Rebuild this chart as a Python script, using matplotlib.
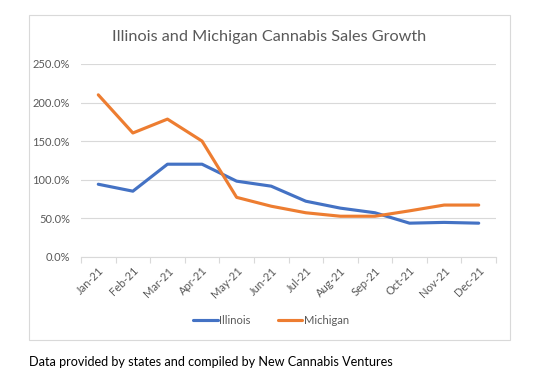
import matplotlib.pyplot as plt
from matplotlib.patches import Rectangle
from matplotlib.ticker import FuncFormatter

months = ['Jan-21', 'Feb-21', 'Mar-21', 'Apr-21', 'May-21', 'Jun-21',
          'Jul-21', 'Aug-21', 'Sep-21', 'Oct-21', 'Nov-21', 'Dec-21']
illinois = [94.0, 85.0, 120.0, 120.0, 98.0, 91.5, 72.0, 63.0, 57.0, 43.5, 44.5, 43.5]
michigan = [210.0, 160.5, 178.5, 150.0, 77.0, 65.5, 57.0, 52.5, 52.5, 59.5, 67.0, 67.0]

plt.rcParams['font.family'] = ['Lato', 'DejaVu Sans']
grey = '#595959'

fig = plt.figure(figsize=(5.53, 3.84), dpi=100)
fig.patches.append(Rectangle((29 / 553, 1 - 340 / 384), 481 / 553, 325 / 384,
                             transform=fig.transFigure, fill=False,
                             edgecolor='#d9d9d9', linewidth=0.8))

ax = fig.add_axes([81 / 553, 1 - 256.7 / 384, 415 / 553, 192.7 / 384])
x = list(range(len(months)))
ax.plot(x, illinois, color='#4472C4', lw=2.25, label='Illinois', solid_capstyle='round')
ax.plot(x, michigan, color='#ED7D31', lw=2.25, label='Michigan', solid_capstyle='round')

ax.set_xlim(-0.5, len(months) - 0.5)
ax.set_ylim(0, 250)
ax.set_yticks([0, 50, 100, 150, 200, 250])
ax.yaxis.set_major_formatter(FuncFormatter(lambda v, p: f'{v:.1f}%'))
ax.grid(axis='y', color='#d9d9d9', lw=0.8)
ax.set_axisbelow(True)
for s in ['top', 'right', 'left']:
    ax.spines[s].set_visible(False)
ax.spines['bottom'].set_color('#d9d9d9')
ax.tick_params(axis='y', length=0, labelsize=8, labelcolor=grey, pad=8)

ax.set_xticks([i - 0.5 for i in range(len(months) + 1)])
ax.set_xticklabels([])
ax.set_xticks(x, minor=True)
ax.set_xticklabels(months, minor=True, rotation=45, ha='right',
                   rotation_mode='anchor', fontsize=8, color=grey)
ax.tick_params(axis='x', which='major', length=4, color='#d9d9d9')
ax.tick_params(axis='x', which='minor', length=0, pad=6)

fig.text(269 / 553, 1 - 37 / 384, 'Illinois and Michigan Cannabis Sales Growth',
         ha='center', va='center', fontsize=11.7, color=grey)

fig.legend(loc='center', bbox_to_anchor=(271 / 553, 1 - 320 / 384), ncol=2,
           frameon=False, fontsize=8, labelcolor=grey, handlelength=2.2,
           columnspacing=2.5, handletextpad=0.1)

fig.text(29 / 553, 1 - 362 / 384,
         'Data provided by states and compiled by New Cannabis Ventures',
         ha='left', va='center', fontsize=9.1, color='black')

fig.savefig('out.png', dpi=100)
